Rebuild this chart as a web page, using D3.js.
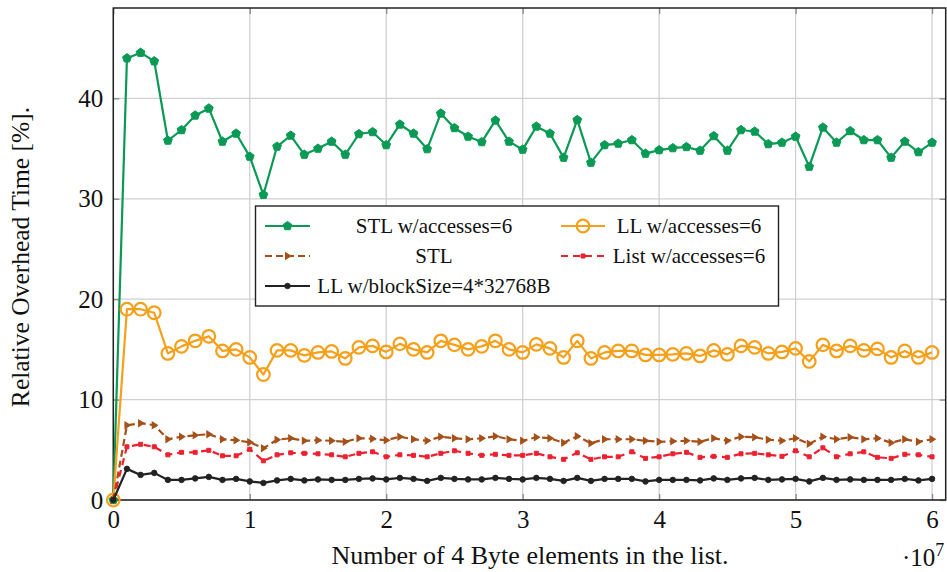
<!DOCTYPE html>
<html>
<head>
<meta charset="utf-8">
<script src="https://cdn.jsdelivr.net/npm/d3@7"></script>
<style>
  html, body { margin: 0; padding: 0; background: #fff; }
  svg { display: block; }
  text { font-family: "Liberation Serif", "Times New Roman", serif; fill: #111; }
</style>
</head>
<body>
<svg id="chart" width="947" height="572"></svg>
<script>
// Number of elements in the list, in millions
const sizesMillions = [0,1,2,3,4,5,6,7,8,9,10,11,12,13,14,15,16,17,18,19,20,
  21,22,23,24,25,26,27,28,29,30,31,32,33,34,35,36,37,38,39,40,
  41,42,43,44,45,46,47,48,49,50,51,52,53,54,55,56,57,58,59,60];

// Relative overhead time [%] per configuration
const stlAccesses = [0,44.0,44.55,43.7,35.8,36.85,38.3,39.0,35.7,36.5,34.2,30.4,35.2,36.3,34.4,35.0,35.7,34.4,36.45,36.65,35.35,
  37.4,36.5,34.95,38.5,37.05,36.2,35.65,37.8,35.7,34.9,37.2,36.5,34.1,37.85,33.6,35.35,35.5,35.85,34.5,34.85,
  35.05,35.16,34.8,36.25,34.8,36.85,36.7,35.45,35.6,36.2,33.2,37.1,35.6,36.75,35.85,35.85,34.1,35.7,34.65,35.6];

const llAccesses = [0,19.0,19.0,18.65,14.6,15.3,15.85,16.3,14.85,15.0,14.2,12.5,14.9,14.9,14.4,14.7,14.8,14.1,15.2,15.35,14.75,
  15.55,15.0,14.7,15.85,15.45,15.0,15.3,15.85,15.0,14.7,15.5,15.1,14.2,15.85,14.1,14.7,14.85,14.85,14.45,14.45,
  14.5,14.6,14.35,14.9,14.5,15.35,15.2,14.6,14.75,15.1,13.8,15.45,14.85,15.35,14.9,15.05,14.2,14.85,14.2,14.7];

const stlPlain = [0,7.45,7.65,7.45,6.05,6.3,6.45,6.55,6.05,5.95,5.75,5.15,6.0,6.15,5.9,5.95,5.9,5.8,6.15,6.1,5.95,
  6.3,6.05,5.9,6.3,6.15,6.05,6.15,6.35,6.05,5.9,6.25,6.15,5.7,6.35,5.65,6.05,6.05,6.05,5.9,5.8,
  5.85,5.9,5.8,6.15,5.9,6.3,6.25,6.0,5.9,6.15,5.6,6.3,6.05,6.25,6.05,6.15,5.7,6.05,5.8,6.05];

const listAccesses = [0,5.3,5.55,5.3,4.5,4.75,4.75,4.95,4.4,4.4,5.05,3.9,4.5,4.7,4.65,4.6,4.5,4.3,4.65,4.8,4.3,
  4.5,4.45,4.3,4.65,4.9,4.65,4.45,4.55,4.45,4.45,4.65,4.3,4.05,4.7,4.05,4.3,4.3,4.8,4.15,4.3,
  4.6,4.75,4.25,4.35,4.25,4.6,4.65,4.5,4.35,4.9,4.3,5.2,4.3,4.6,4.8,4.25,4.15,4.55,4.5,4.3];

const llBlock = [0,3.1,2.5,2.7,2.0,2.0,2.15,2.3,2.0,2.1,1.85,1.7,1.95,2.1,1.95,2.05,2.0,2.0,2.1,2.15,2.05,
  2.2,2.1,1.9,2.2,2.1,2.05,2.05,2.2,2.1,2.05,2.2,2.1,1.9,2.2,1.9,2.1,2.1,2.1,1.85,2.0,
  2.0,2.0,1.95,2.15,2.0,2.15,2.2,2.0,2.05,2.1,1.85,2.2,2.0,2.05,2.0,2.0,2.0,2.1,1.95,2.1];

const seriesNames = ["STL w/accesses=6", "LL w/accesses=6", "STL", "List w/accesses=6", "LL w/blockSize=4*32768B"];

const xTicks = [0, 1e7, 2e7, 3e7, 4e7, 5e7, 6e7];
const xTickLabels = ["0", "1", "2", "3", "4", "5", "6"];
const yTicks = [0, 10, 20, 30, 40];
const yTickLabels = ["0", "10", "20", "30", "40"];

const svg = d3.select("#chart");
const plot = { left: 113.3, right: 945.7, top: 8, bottom: 500 };

const x = d3.scaleLinear().domain([0, 6.1e7]).range([plot.left, plot.right]);
const y = d3.scaleLinear().domain([0, 49]).range([plot.bottom, plot.top]);

// Grid lines
const grid = svg.append("g");
grid.selectAll(".gx").data(xTicks).join("line")
  .attr("x1", d => x(d)).attr("x2", d => x(d))
  .attr("y1", plot.top).attr("y2", plot.bottom)
  .attr("stroke", "#d0d0d0").attr("stroke-width", 1.3);
grid.selectAll(".gy").data(yTicks).join("line")
  .attr("y1", d => y(d)).attr("y2", d => y(d))
  .attr("x1", plot.left).attr("x2", plot.right)
  .attr("stroke", "#d0d0d0").attr("stroke-width", 1.3);

// Axes (ticks drawn inward on all four sides)
const tickLen = 6;
const axisBottom = d3.axisBottom(x).tickValues(xTicks).tickFormat((d, i) => xTickLabels[i])
  .tickSizeInner(-tickLen).tickSizeOuter(0).tickPadding(10);
const axisLeft = d3.axisLeft(y).tickValues(yTicks).tickFormat((d, i) => yTickLabels[i])
  .tickSizeInner(-tickLen).tickSizeOuter(0).tickPadding(10);
const axisTop = d3.axisTop(x).tickValues(xTicks).tickFormat("").tickSizeInner(-tickLen).tickSizeOuter(0);
const axisRight = d3.axisRight(y).tickValues(yTicks).tickFormat("").tickSizeInner(-tickLen).tickSizeOuter(0);

function styleAxis(g) {
  g.select(".domain").remove();
  g.selectAll(".tick line").attr("stroke", "#8a8a8a").attr("stroke-width", 1.3);
  g.selectAll(".tick text").attr("font-family", "Liberation Serif, serif").attr("font-size", 25).attr("fill", "#111");
}
svg.append("g").attr("transform", `translate(0,${plot.bottom})`).call(axisBottom).call(styleAxis);
svg.append("g").attr("transform", `translate(${plot.left},0)`).call(axisLeft).call(styleAxis);
svg.append("g").attr("transform", `translate(0,${plot.top})`).call(axisTop).call(styleAxis);
svg.append("g").attr("transform", `translate(${plot.right},0)`).call(axisRight).call(styleAxis);

// Frame
svg.append("rect")
  .attr("x", plot.left).attr("y", plot.top)
  .attr("width", plot.right - plot.left).attr("height", plot.bottom - plot.top)
  .attr("fill", "none").attr("stroke", "#222").attr("stroke-width", 1.5);

// Marker shapes
function pentagon(r) {
  const pts = d3.range(5).map(k => {
    const a = -Math.PI / 2 + k * 2 * Math.PI / 5;
    return [r * Math.cos(a), r * Math.sin(a)];
  });
  return "M" + pts.map(p => p.join(",")).join("L") + "Z";
}
function triangleRight(r) {
  return `M${r},0L${-r * 0.6},${-r}L${-r * 0.6},${r}Z`;
}
function square(r) {
  return `M${-r},${-r}L${r},${-r}L${r},${r}L${-r},${r}Z`;
}

const series = [
  { name: seriesNames[0], values: stlAccesses, color: "#0a9a55", width: 2.2, dash: null,
    mark: { path: pentagon(4.6), fill: "#0a9a55", stroke: "#0a9a55", sw: 1 } },
  { name: seriesNames[1], values: llAccesses, color: "#f5a01a", width: 2.2, dash: null,
    mark: { circle: 6.3, fill: "none", stroke: "#f5a01a", sw: 2.2 } },
  { name: seriesNames[2], values: stlPlain, color: "#a5501a", width: 2.2, dash: "7,4",
    mark: { path: triangleRight(3.2), fill: "#a5501a", stroke: "#a5501a", sw: 1.2 } },
  { name: seriesNames[3], values: listAccesses, color: "#ec2130", width: 2.2, dash: "7,5",
    mark: { path: square(2.0), fill: "#ec2130", stroke: "#ec2130", sw: 1 } },
  { name: seriesNames[4], values: llBlock, color: "#222", width: 2.2, dash: null,
    mark: { circle: 2.8, fill: "#222", stroke: "#222", sw: 0.8 } }
];

const line = d3.line().x(d => x(d[0])).y(d => y(d[1]));

function drawMark(g, m, cx, cy) {
  if (m.circle) {
    g.append("circle").attr("cx", cx).attr("cy", cy).attr("r", m.circle)
      .attr("fill", m.fill).attr("stroke", m.stroke).attr("stroke-width", m.sw);
  } else {
    g.append("path").attr("d", m.path).attr("transform", `translate(${cx},${cy})`)
      .attr("fill", m.fill).attr("stroke", m.stroke).attr("stroke-width", m.sw);
  }
}

series.forEach(s => {
  const pts = sizesMillions.map((m, i) => [m * 1e6, s.values[i]]);
  const g = svg.append("g");
  g.append("path").datum(pts).attr("d", line)
    .attr("fill", "none").attr("stroke", s.color).attr("stroke-width", s.width)
    .attr("stroke-linejoin", "round")
    .attr("stroke-dasharray", s.dash);
  pts.forEach(p => drawMark(g, s.mark, x(p[0]), y(p[1])));
});

// Legend
const leg = { x: 255.5, y: 206, w: 523, h: 100 };
const lg = svg.append("g");
lg.append("rect").attr("x", leg.x).attr("y", leg.y).attr("width", leg.w).attr("height", leg.h)
  .attr("fill", "#fff").attr("stroke", "#222").attr("stroke-width", 1.4);

const rowsY = [226, 256, 286];
const legendCells = [
  { s: 0, col: 0, row: 0 }, { s: 1, col: 1, row: 0 },
  { s: 2, col: 0, row: 1 }, { s: 3, col: 1, row: 1 },
  { s: 4, col: 0, row: 2 }
];
const sampleX = [[265, 310], [561, 605]];
const textCenter = [434, 689];
legendCells.forEach(c => {
  const s = series[c.s];
  const yy = rowsY[c.row];
  const [x1, x2] = sampleX[c.col];
  lg.append("line").attr("x1", x1).attr("x2", x2).attr("y1", yy).attr("y2", yy)
    .attr("stroke", s.color).attr("stroke-width", s.width).attr("stroke-dasharray", s.dash);
  drawMark(lg, s.mark, (x1 + x2) / 2, yy);
  lg.append("text").attr("x", textCenter[c.col]).attr("y", yy).attr("dy", "0.35em")
    .attr("text-anchor", "middle").attr("font-size", 21).text(s.name);
});

// Axis labels
svg.append("text").attr("x", 530).attr("y", 564).attr("text-anchor", "middle")
  .attr("font-size", 26).text("Number of 4 Byte elements in the list.");

svg.append("text").attr("transform", "translate(29,257) rotate(-90)").attr("text-anchor", "middle")
  .attr("font-size", 25.5).text("Relative Overhead Time [%].");

const exp = svg.append("text").attr("x", 902).attr("y", 566).attr("font-size", 25);
exp.append("tspan").text("·10");
exp.append("tspan").attr("dy", -10).attr("font-size", 18).text("7");
</script>
</body>
</html>
